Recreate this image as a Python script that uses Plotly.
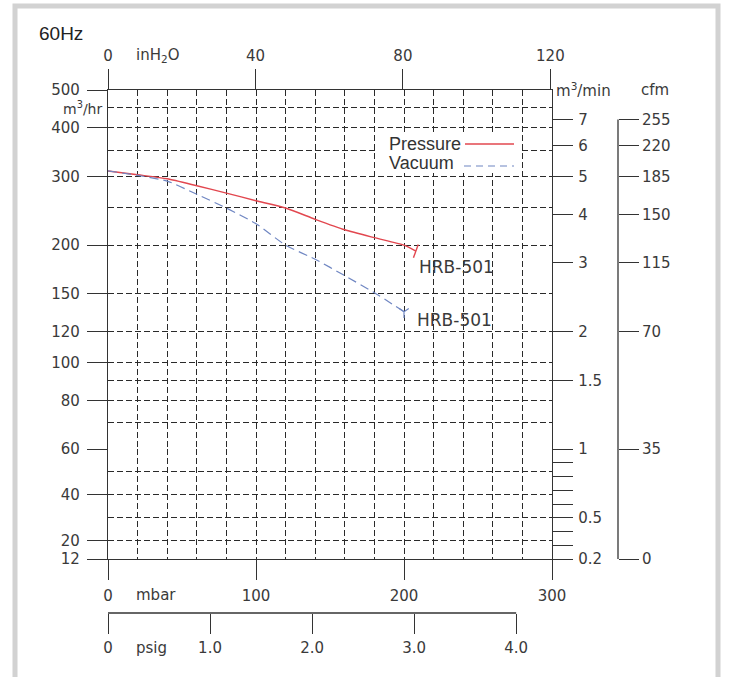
import math
import plotly.graph_objects as go

# HRB-501 blower performance at 60 Hz: flow (m3/hr) against pressure (mbar)
PRESSURE_MBAR = [0, 20, 40, 60, 80, 100, 120, 140, 160, 180, 200, 208]
PRESSURE_FLOW = [310, 303, 296, 284, 272, 260, 249, 233, 219, 209, 200, 193]
VACUUM_MBAR = [0, 20, 40, 60, 80, 100, 120, 140, 160, 180, 200]
VACUUM_FLOW = [310, 302, 292, 270, 249, 227, 200, 184, 167, 151, 135]
MODEL = "HRB-501"

# Flow scale: logarithmic from 60 to 500 m3/hr, linear from 12 to 60 m3/hr
FLOW_TICKS_LOG = [500, 400, 300, 200, 150, 120, 100, 80, 60]
FLOW_GRID_LOG = [450, 350, 250, 90, 70]
FLOW_TICKS_LIN = [40, 20, 12]
FLOW_GRID_LIN = [50, 30]

# Secondary flow units
M3MIN_TICKS_LOG = [7, 6, 5, 4, 3, 2, 1.5, 1]
M3MIN_TICKS_LIN = [0.2, 0.3, 0.4, 0.5, 0.6, 0.7, 0.8, 0.9]
M3MIN_LABELS_LIN = ["0.2", "", "", "0.5", "", "", "", ""]
CFM_POS_LOG = [7, 6, 5, 4, 3, 2, 1]
CFM_LABELS_LOG = ["255", "220", "185", "150", "115", "70", "35"]
CFM_POS_LIN = [0.2]
CFM_LABELS_LIN = ["0"]

# Pressure scales
MBAR_TICKS = [0, 100, 200, 300]
INH2O_TICKS = [0, 40, 80, 120]
PSIG_TICKS = [0, 1, 2, 3, 4]
PSIG_LABELS = ["0", "1.0", "2.0", "3.0", "4.0"]

MBAR_MAX = 300
MBAR_PER_INH2O = 2.4909
MBAR_PER_PSI = 68.948
FLOW_MIN, FLOW_SPLIT, FLOW_MAX = 12, 60, 500
M3HR_PER_M3MIN = 60

W, H = 731, 677


def px(x):
    return x / W


def py(y):
    return 1 - y / H


X_L, X_R = px(108), px(552)
Y_TOP, Y_MID, Y_BOT = py(90), py(449), py(559)
CFM_X = px(618)
PSIG_Y = py(613)

INK = "#333333"
GRID = "#2a2a2a"
RED = "#e2474f"
BLUE = "#6f86c2"
CAD = dict(family="DejaVu Sans", size=15, color="#3a3a3a")
SANS = dict(family="Liberation Sans, Arial", size=19, color="#222222")
LEG = dict(family="Liberation Sans, Arial", size=18, color="#333333")
DASH = "6px,3px"

fig = go.Figure()

fig.add_trace(go.Scatter(x=PRESSURE_MBAR, y=PRESSURE_FLOW, xaxis="x2", yaxis="y",
                         mode="lines", line=dict(color=RED, width=1.4, shape="spline",
                                                 smoothing=0.6),
                         name="Pressure", showlegend=False))
fig.add_trace(go.Scatter(x=VACUUM_MBAR, y=VACUUM_FLOW, xaxis="x2", yaxis="y",
                         mode="lines", line=dict(color=BLUE, width=1.2, dash="9px,5px",
                                                 shape="spline", smoothing=0.6),
                         name="Vacuum", showlegend=False))
fig.add_trace(go.Scatter(x=[PRESSURE_MBAR[-1]], y=[PRESSURE_FLOW[-1]], xaxis="x2", yaxis="y",
                         mode="markers", showlegend=False, hoverinfo="skip",
                         marker=dict(symbol="line-ns", size=10, angle=20, color=RED,
                                     line=dict(color=RED, width=1.4))))
fig.add_trace(go.Scatter(x=[VACUUM_MBAR[-1]], y=[VACUUM_FLOW[-1]], xaxis="x2", yaxis="y",
                         mode="markers", showlegend=False, hoverinfo="skip",
                         marker=dict(symbol="y-down-open", size=8, color=BLUE,
                                     line=dict(color=BLUE, width=1.2))))

# empty traces so every overlay axis gets drawn
for xa, ya in [("x", "y2"), ("x3", "y"), ("x4", "y2"), ("x2", "y3"),
               ("x", "y4"), ("x2", "y5"), ("x", "y6")]:
    fig.add_trace(go.Scatter(x=[None], y=[None], xaxis=xa, yaxis=ya, mode="none",
                             showlegend=False, hoverinfo="skip"))

grid = dict(showgrid=True, gridcolor=GRID, griddash=DASH, gridwidth=1)
minor_dtick = dict(dtick=20, tick0=0, ticks="", showgrid=True, gridcolor=GRID,
                   griddash=DASH, gridwidth=1)
line = dict(showline=True, linecolor=INK, linewidth=1.3)
ticks = dict(ticks="outside", ticklen=20, tickcolor=INK, tickwidth=1.3, tickfont=CAD,
             automargin=False, zeroline=False)


def minor_at(vals):
    return dict(tickmode="array", tickvals=vals, ticks="", showgrid=True,
                gridcolor=GRID, griddash=DASH, gridwidth=1)


fig.update_layout(
    template="none",
    width=W, height=H, autosize=False,
    margin=dict(l=0, r=0, t=0, b=0, pad=0),
    paper_bgcolor="white", plot_bgcolor="white",
    showlegend=False,
    xaxis=dict(domain=[X_L, X_R], range=[0, MBAR_MAX], anchor="y2", side="bottom",
               tickmode="array", tickvals=MBAR_TICKS, ticklabelstandoff=3,
               minor=minor_dtick, **grid, **line, **ticks),
    xaxis2=dict(domain=[X_L, X_R], range=[0, MBAR_MAX], matches="x", anchor="y",
                showticklabels=False, ticks="", showline=False, zeroline=False,
                automargin=False, tickmode="array", tickvals=MBAR_TICKS,
                minor=minor_dtick, **grid),
    xaxis3=dict(overlaying="x2", anchor="y", side="top",
                range=[0, MBAR_MAX / MBAR_PER_INH2O],
                tickmode="array", tickvals=INH2O_TICKS, ticklabelstandoff=2,
                showgrid=False, **line, **ticks),
    xaxis4=dict(overlaying="x", anchor="free", position=PSIG_Y, side="bottom",
                range=[0, MBAR_MAX / MBAR_PER_PSI],
                tickmode="array", tickvals=PSIG_TICKS, ticktext=PSIG_LABELS,
                ticklabelstandoff=1, showgrid=False, showline=False, **ticks),
    yaxis=dict(domain=[Y_MID, Y_TOP], type="log",
               range=[math.log10(FLOW_SPLIT), math.log10(FLOW_MAX)],
               anchor="x2", side="left", tickmode="array", tickvals=FLOW_TICKS_LOG,
               ticklabelstandoff=4, minor=minor_at(FLOW_GRID_LOG),
               **grid, **line, **ticks),
    yaxis2=dict(domain=[Y_BOT, Y_MID], range=[FLOW_MIN, FLOW_SPLIT],
                anchor="x", side="left", tickmode="array", tickvals=FLOW_TICKS_LIN,
                ticklabelstandoff=4, minor=minor_at(FLOW_GRID_LIN),
                **grid, **line, **ticks),
    yaxis3=dict(overlaying="y", anchor="x2", side="right", type="log",
                range=[math.log10(FLOW_SPLIT / M3HR_PER_M3MIN),
                       math.log10(FLOW_MAX / M3HR_PER_M3MIN)],
                tickmode="array", tickvals=M3MIN_TICKS_LOG, ticklabelstandoff=2,
                showgrid=False, **line, **ticks),
    yaxis4=dict(overlaying="y2", anchor="x", side="right",
                range=[FLOW_MIN / M3HR_PER_M3MIN, FLOW_SPLIT / M3HR_PER_M3MIN],
                tickmode="array", tickvals=M3MIN_TICKS_LIN, ticktext=M3MIN_LABELS_LIN,
                ticklabelstandoff=2, showgrid=False, **line, **ticks),
    yaxis5=dict(overlaying="y", anchor="free", position=CFM_X, side="right", type="log",
                range=[math.log10(FLOW_SPLIT / M3HR_PER_M3MIN),
                       math.log10(FLOW_MAX / M3HR_PER_M3MIN)],
                tickmode="array", tickvals=CFM_POS_LOG, ticktext=CFM_LABELS_LOG,
                ticklabelstandoff=0, showgrid=False, showline=False, **ticks),
    yaxis6=dict(overlaying="y2", anchor="free", position=CFM_X, side="right",
                range=[FLOW_MIN / M3HR_PER_M3MIN, FLOW_SPLIT / M3HR_PER_M3MIN],
                tickmode="array", tickvals=CFM_POS_LIN, ticktext=CFM_LABELS_LIN,
                ticklabelstandoff=0, showgrid=False, showline=False, **ticks),
)

shapes = [
    # outer frame
    dict(type="rect", xref="paper", yref="paper", x0=px(15), x1=px(718), y0=-0.05, y1=py(6),
         line=dict(color="#d2d2d2", width=5), layer="below"),
    # cfm scale spine
    dict(type="line", xref="paper", yref="y5", x0=CFM_X, x1=CFM_X,
         y0=CFM_POS_LOG[-1], y1=CFM_POS_LOG[0], line=dict(color=INK, width=1.3)),
    dict(type="line", xref="paper", yref="y6", x0=CFM_X, x1=CFM_X,
         y0=CFM_POS_LIN[0], y1=FLOW_SPLIT / M3HR_PER_M3MIN, line=dict(color=INK, width=1.3)),
    # psig scale spine
    dict(type="line", xref="x4", yref="paper", x0=PSIG_TICKS[0], x1=PSIG_TICKS[-1],
         y0=PSIG_Y, y1=PSIG_Y, line=dict(color=INK, width=1.3)),
    # legend box and keys
    dict(type="rect", xref="paper", yref="paper", x0=px(376), x1=px(522), y0=py(173), y1=py(133),
         fillcolor="white", line=dict(width=0), layer="above"),
    dict(type="line", xref="paper", yref="paper", x0=px(465), x1=px(514), y0=py(144), y1=py(144),
         line=dict(color=RED, width=1.4), layer="above"),
    dict(type="line", xref="paper", yref="paper", x0=px(464), x1=px(514), y0=py(166), y1=py(166),
         line=dict(color=BLUE, width=1.2, dash="7px,5px"), layer="above"),
]
fig.update_layout(shapes=shapes)


def note(text, x, y, xanchor="left", font=CAD):
    return dict(text=text, x=px(x), y=py(y), xref="paper", yref="paper",
                xanchor=xanchor, yanchor="middle", showarrow=False, font=font)


MODEL_FONT = dict(CAD, size=17)

annotations = [
    note("60Hz", 37, 34, font=SANS),
    note("inH<sub>2</sub>O", 134, 55),
    note("mbar", 134, 595),
    note("psig", 134, 648),
    note("m<sup>3</sup>/hr", 104, 108, xanchor="right", font=dict(CAD, size=14)),
    note("m<sup>3</sup>/min", 554, 90),
    note("cfm", 639, 90),
    note("Pressure", 387, 144, font=LEG),
    note("Vacuum", 387, 163, font=LEG),
    dict(text=MODEL, x=PRESSURE_MBAR[-1], y=math.log10(PRESSURE_FLOW[-1]), xref="x2", yref="y",
         xanchor="left", yanchor="middle", xshift=1, yshift=-16, showarrow=False,
         font=MODEL_FONT),
    dict(text=MODEL, x=VACUUM_MBAR[-1], y=math.log10(VACUUM_FLOW[-1]), xref="x2", yref="y",
         xanchor="left", yanchor="middle", xshift=11, yshift=-8, showarrow=False,
         font=MODEL_FONT),
]
fig.update_layout(annotations=annotations)

fig.write_html("out.html")
